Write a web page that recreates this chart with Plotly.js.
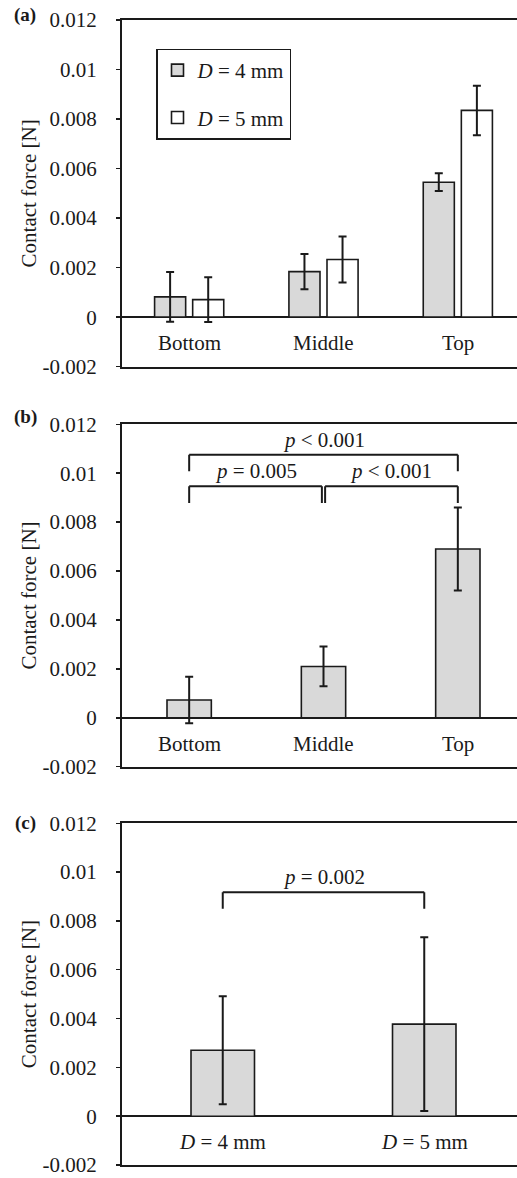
<!DOCTYPE html>
<html>
<head>
<meta charset="utf-8">
<script src="https://cdn.plot.ly/plotly-3.0.1.min.js"></script>
<style>
html,body{margin:0;padding:0;overflow:hidden;background:#fff;}
#chart{width:527px;height:1178px;}
</style>
</head>
<body>
<div id="chart"></div>
<script>
// ---------- data ----------
const categoriesA = ['Bottom', 'Middle', 'Top'];
const seriesNamesA = ['<i>D</i> = 4 mm', '<i>D</i> = 5 mm'];
const d4ValuesA = [0.00082, 0.00184, 0.00545];
const d4ErrorsA = [0.00100, 0.00071, 0.00036];
const d5ValuesA = [0.00071, 0.00233, 0.00835];
const d5ErrorsA = [0.00090, 0.00093, 0.00100];

const categoriesB = ['Bottom', 'Middle', 'Top'];
const valuesB = [0.00073, 0.00210, 0.00690];
const errorsB = [0.00095, 0.00081, 0.00170];

const categoriesC = ['<i>D</i> = 4 mm', '<i>D</i> = 5 mm'];
const valuesC = [0.00270, 0.00377];
const errorsC = [0.00221, 0.00356];

const tickValues = [-0.002, 0, 0.002, 0.004, 0.006, 0.008, 0.01, 0.012];
const tickLabels = ['-0.002', '0', '0.002', '0.004', '0.006', '0.008', '0.01', '0.012'];
const panelLabels = ['(a)', '(b)', '(c)'];
const yTitle = 'Contact force [N]';

// significance brackets
const bracketPanel = ['b', 'b', 'b', 'c'];
const bracketFrom = [0, 1.012, 0, 0];
const bracketTo = [0.988, 2, 2, 1];
const bracketY = [0.00947, 0.00947, 0.01076, 0.00918];
const bracketLegY = [0.00878, 0.00878, 0.01008, 0.00850];
const bracketLabels = ['<i>p</i> = 0.005', '<i>p</i> &lt; 0.001', '<i>p</i> &lt; 0.001', '<i>p</i> = 0.002'];

// ---------- style ----------
const FONT = 'Liberation Serif, Times New Roman, serif';
const INK = '#1a1a1a';
const GRAY = '#d9d9d9';
const FS = 21;
const W = 527, H = 1178, ML = 122, MR = 2;
const plotW = W - ML - MR;

const errStyle = (arr) => ({type: 'data', array: arr, visible: true, color: INK, thickness: 2, width: 4});

const traces = [
  {type: 'bar', x: categoriesA, y: d4ValuesA, name: seriesNamesA[0], legendgroup: 'g1',
   marker: {color: GRAY, line: {color: INK, width: 1.6}}, error_y: errStyle(d4ErrorsA),
   xaxis: 'x', yaxis: 'y'},
  {type: 'bar', x: categoriesA, y: d5ValuesA, name: seriesNamesA[1], legendgroup: 'g2',
   marker: {color: '#ffffff', line: {color: INK, width: 1.6}}, error_y: errStyle(d5ErrorsA),
   xaxis: 'x', yaxis: 'y'},
  {type: 'bar', x: categoriesB, y: valuesB, showlegend: false, width: 0.33,
   marker: {color: GRAY, line: {color: INK, width: 1.6}}, error_y: errStyle(errorsB),
   xaxis: 'x2', yaxis: 'y2'},
  {type: 'bar', x: categoriesC, y: valuesC, showlegend: false, width: 0.315,
   marker: {color: GRAY, line: {color: INK, width: 1.6}}, error_y: errStyle(errorsC),
   xaxis: 'x3', yaxis: 'y3'}
];

function yaxis(domain) {
  return {
    domain: domain, range: [-0.002, 0.012], tickmode: 'array',
    tickvals: tickValues, ticktext: tickLabels,
    ticks: 'outside', ticklen: 4, tickwidth: 1.5, tickcolor: INK,
    ticklabelstandoff: 15,
    showline: true, linecolor: INK, linewidth: 2, mirror: true,
    showgrid: false, zeroline: true, zerolinecolor: INK, zerolinewidth: 2,
    tickfont: {family: FONT, size: FS, color: INK},
    title: {text: yTitle, font: {family: FONT, size: FS, color: INK}, standoff: 0},
    automargin: false, fixedrange: true
  };
}
function xaxis(anchor, n) {
  return {
    anchor: anchor, domain: [0, 1], type: 'category', range: [-0.5, n - 0.5],
    showline: true, linecolor: INK, linewidth: 2, mirror: true,
    showticklabels: false, ticks: '', showgrid: false, zeroline: false, fixedrange: true
  };
}

const domA = [1 - 366.7 / H, 1 - 20 / H];
const domB = [1 - 766.7 / H, 1 - 424.3 / H];
const domC = [1 - 1165 / H, 1 - 823.3 / H];

const annotations = [];
const shapes = [];

function catLabels(cats, xref, yref) {
  cats.forEach((c, i) => annotations.push({
    x: i, y: 0, xref: xref, yref: yref, text: c, showarrow: false,
    yanchor: 'middle', yshift: -26, font: {family: FONT, size: FS, color: INK}
  }));
}
catLabels(categoriesA, 'x', 'y');
catLabels(categoriesB, 'x2', 'y2');
catLabels(categoriesC, 'x3', 'y3');

const panelTops = [15, 417, 823];
panelLabels.forEach((t, i) => annotations.push({
  x: (25 - ML) / plotW, y: 1 - panelTops[i] / H, xref: 'paper', yref: 'paper',
  text: '<b>' + t + '</b>', showarrow: false, xanchor: 'center', yanchor: 'middle',
  font: {family: FONT, size: 19, color: INK}
}));

bracketPanel.forEach((p, i) => {
  const xr = p === 'b' ? 'x2' : 'x3';
  const yr = p === 'b' ? 'y2' : 'y3';
  const ln = {color: INK, width: 2};
  shapes.push({type: 'line', xref: xr, yref: yr, x0: bracketFrom[i], x1: bracketFrom[i], y0: bracketLegY[i], y1: bracketY[i], line: ln});
  shapes.push({type: 'line', xref: xr, yref: yr, x0: bracketFrom[i], x1: bracketTo[i], y0: bracketY[i], y1: bracketY[i], line: ln});
  shapes.push({type: 'line', xref: xr, yref: yr, x0: bracketTo[i], x1: bracketTo[i], y0: bracketLegY[i], y1: bracketY[i], line: ln});
  annotations.push({
    x: (bracketFrom[i] + bracketTo[i]) / 2, y: bracketY[i], xref: xr, yref: yr,
    text: bracketLabels[i], showarrow: false, yanchor: 'middle', yshift: 15,
    font: {family: FONT, size: FS, color: INK}
  });
});

const layout = {
  width: W, height: H,
  margin: {l: ML, r: MR, t: 0, b: 0, pad: 0},
  paper_bgcolor: '#ffffff', plot_bgcolor: '#ffffff',
  font: {family: FONT, size: FS, color: INK},
  barmode: 'group', bargap: 0.433, bargroupgap: 0.184,
  showlegend: true,
  legend: {
    x: (156 - ML) / plotW, y: 1 - 48.5 / H, xanchor: 'left', yanchor: 'top',
    bgcolor: '#ffffff', bordercolor: INK, borderwidth: 1.5,
    font: {family: FONT, size: FS, color: INK},
    tracegroupgap: 17, traceorder: 'grouped'
  },
  xaxis: xaxis('y', 3), yaxis: yaxis(domA),
  xaxis2: xaxis('y2', 3), yaxis2: yaxis(domB),
  xaxis3: xaxis('y3', 2), yaxis3: yaxis(domC),
  annotations: annotations, shapes: shapes
};

Plotly.newPlot('chart', traces, layout, {displayModeBar: false, staticPlot: true});
</script>
</body>
</html>
